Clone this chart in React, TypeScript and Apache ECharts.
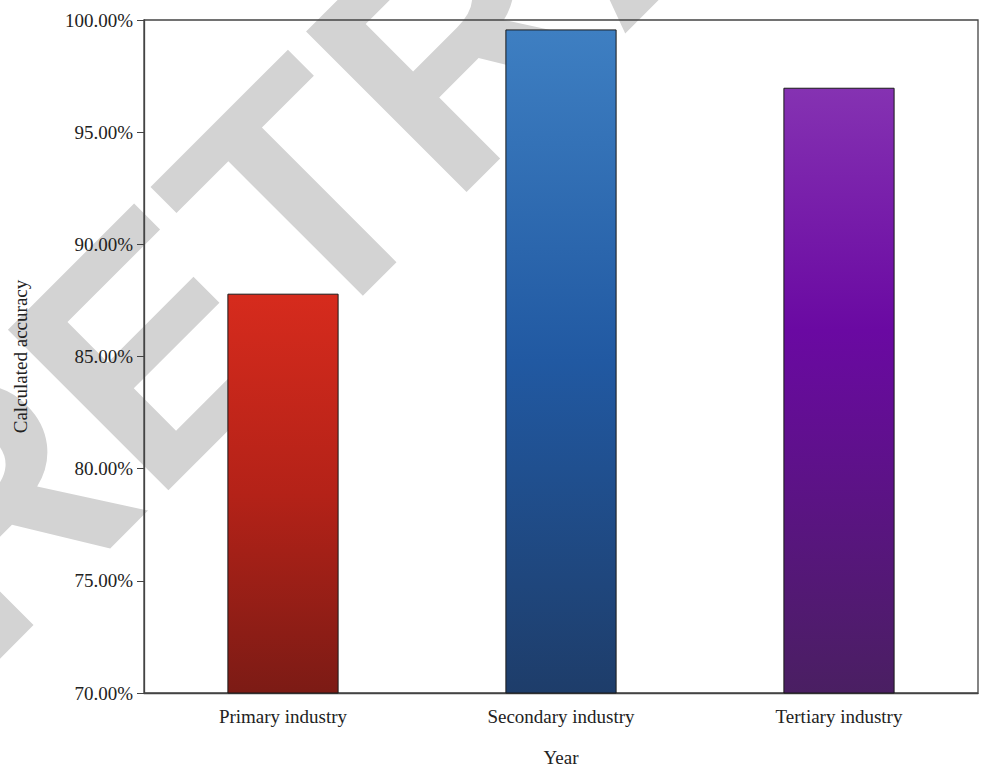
import React, { useEffect, useRef } from "react";
import * as echarts from "echarts";

const categories = ["Primary industry", "Secondary industry", "Tertiary industry"];
const accuracy = [87.8, 99.58, 96.98];
const yTicks = { min: 70, max: 100, step: 5 };

const palette = [
  ["#d62b1d", "#b42218", "#7c1b15"],
  ["#3e7fc2", "#2159a2", "#1e3d6a"],
  ["#8532b2", "#6a09a2", "#4a1f62"],
];
const midStops = [0.5, 0.5, 0.4];

export default function App() {
  const ref = useRef<HTMLDivElement>(null);
  useEffect(() => {
    if (!ref.current) return;
    const chart = echarts.init(ref.current, null, { renderer: "svg" });
    const font = "'Liberation Serif', 'DejaVu Serif', serif";
    chart.setOption({
      animation: false,
      backgroundColor: "#ffffff",
      textStyle: { fontFamily: font },
      graphic: [
        {
          type: "text",
          z: -10,
          x: 20,
          y: 710,
          rotation: Math.PI / 4,
          style: {
            text: "RETRACTED",
            fill: "#d3d3d3",
            font: "bold 330px 'Liberation Sans', Arial, sans-serif",
            textVerticalAlign: "bottom",
          },
        },
      ],
      grid: {
        left: 144,
        right: 4,
        top: 20,
        bottom: 78,
        containLabel: false,
        outerBoundsMode: "none",
        show: true,
        borderColor: "#444",
        borderWidth: 1.3,
        backgroundColor: "transparent",
      },
      xAxis: {
        type: "category",
        data: categories,
        name: "Year",
        nameLocation: "middle",
        nameGap: 55,
        nameTextStyle: { fontSize: 19, color: "#222", fontFamily: font },
        axisLine: { lineStyle: { color: "#444", width: 1.3 } },
        axisTick: { alignWithLabel: true, length: 7, lineStyle: { color: "#444" } },
        axisLabel: { fontSize: 19, color: "#222", margin: 14, fontFamily: font },
        splitLine: { show: false },
      },
      yAxis: {
        type: "value",
        min: yTicks.min,
        max: yTicks.max,
        interval: yTicks.step,
        name: "Calculated accuracy",
        nameLocation: "middle",
        nameGap: 114,
        nameTextStyle: { fontSize: 19, color: "#222", fontFamily: font },
        axisLine: { show: true, lineStyle: { color: "#444", width: 1.3 } },
        axisTick: { show: true, length: 7, lineStyle: { color: "#444" } },
        axisLabel: {
          fontSize: 19,
          color: "#222",
          margin: 11,
          fontFamily: font,
          formatter: (v: number) => v.toFixed(2) + "%",
        },
        splitLine: { show: false },
      },
      series: [
        {
          type: "bar",
          barWidth: "40%",
          data: accuracy.map((v, i) => ({
            value: v,
            itemStyle: {
              borderColor: "#1a1a1a",
              borderWidth: 1,
              color: new echarts.graphic.LinearGradient(0, 0, 0, 1, [
                { offset: 0, color: palette[i][0] },
                { offset: midStops[i], color: palette[i][1] },
                { offset: 1, color: palette[i][2] },
              ]),
            },
          })),
        },
      ],
    });
    return () => chart.dispose();
  }, []);
  return (
    <div
      ref={ref}
      style={{ position: "fixed", left: 0, top: 0, width: 982, height: 771 }}
    />
  );
}
